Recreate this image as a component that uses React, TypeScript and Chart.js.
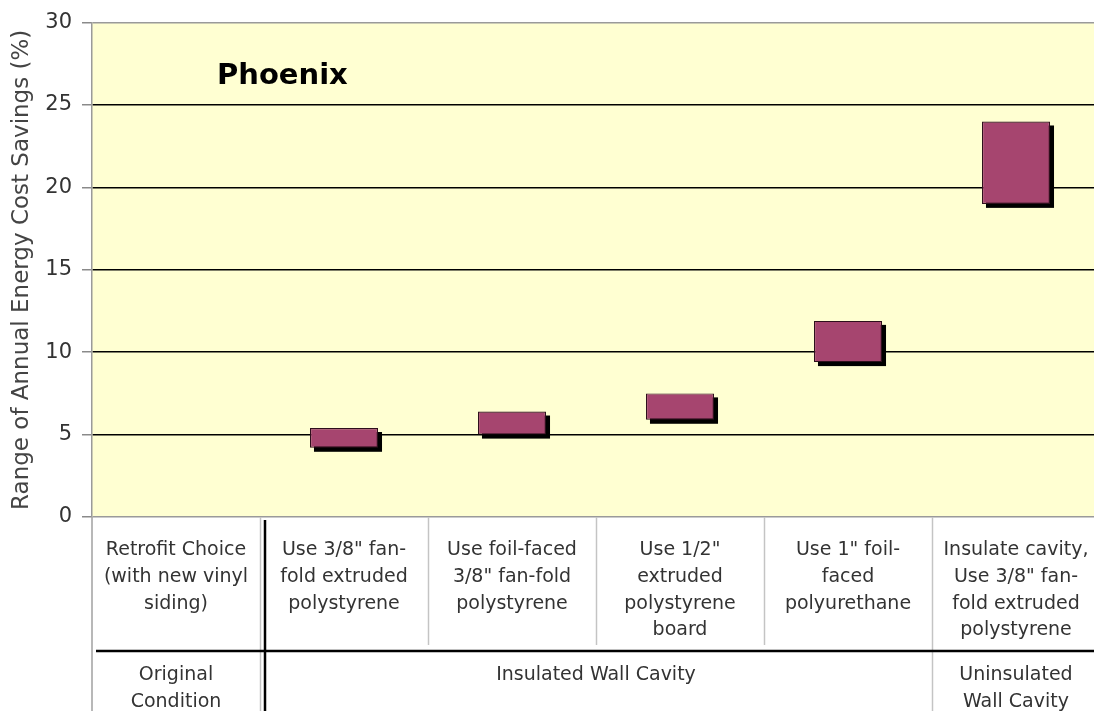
import React, { useEffect, useRef } from "react";
import { Chart, registerables } from "chart.js";

Chart.register(...registerables);

const categoryLines: string[][] = [
  ["Retrofit Choice", "(with new vinyl", "siding)"],
  ["Use 3/8\" fan-", "fold extruded", "polystyrene"],
  ["Use foil-faced", "3/8\" fan-fold", "polystyrene"],
  ["Use 1/2\"", "extruded", "polystyrene", "board"],
  ["Use 1\" foil-", "faced", "polyurethane"],
  ["Insulate cavity,", "Use 3/8\" fan-", "fold extruded", "polystyrene"],
];
const savingsLow: (number | null)[] = [null, 4.2, 5.0, 5.9, 9.4, 19.0];
const savingsHigh: (number | null)[] = [null, 5.4, 6.4, 7.5, 11.9, 24.0];

const groupLabels: string[][] = [["Original", "Condition"], ["Insulated Wall Cavity"], ["Uninsulated", "Wall Cavity"]];
const groupStart = [0, 1, 5];
const groupEnd = [0, 4, 5];

const cityTitle = "Phoenix";
const yTitle = "Range of Annual Energy Cost Savings (%)";
const yMin = 0;
const yMax = 30;
const yStep = 5;

const FONT = "'DejaVu Sans', Verdana, sans-serif";

export default function App() {
  const ref = useRef<HTMLCanvasElement>(null);
  useEffect(() => {
    const canvas = ref.current!;
    const bgPlugin = {
      id: "bg",
      beforeDraw(chart: any) {
        const { ctx, chartArea: a } = chart;
        ctx.save();
        ctx.fillStyle = "#FFFFD2";
        ctx.fillRect(a.left, a.top, a.right - a.left, a.bottom - a.top);
        ctx.restore();
      },
    };
    const shadowPlugin = {
      id: "shadow",
      beforeDatasetsDraw(chart: any) {
        const ctx = chart.ctx;
        const meta = chart.getDatasetMeta(0);
        ctx.save();
        ctx.fillStyle = "#000";
        meta.data.forEach((el: any) => {
          const p = el.getProps(["x", "y", "base", "width"], true);
          if (p.y == null || isNaN(p.y) || p.base == null || isNaN(p.base)) return;
          const top = Math.min(p.y, p.base);
          const h = Math.abs(p.base - p.y);
          if (h <= 0) return;
          ctx.fillRect(p.x - p.width / 2 + 4, top + 4, p.width, h);
        });
        ctx.restore();
      },
    };
    const tablePlugin = {
      id: "table",
      afterDraw(chart: any) {
        const { ctx, chartArea: a } = chart;
        const xs = chart.scales.x;
        const H = chart.height;
        const W = chart.width;
        const step = xs.getPixelForValue(1) - xs.getPixelForValue(0);
        const bound = (i: number) => xs.getPixelForValue(i) - step / 2;
        ctx.save();
        // title inside plot
        ctx.fillStyle = "#000";
        ctx.font = `bold 29px ${FONT}`;
        ctx.textAlign = "left";
        ctx.textBaseline = "middle";
        ctx.fillText(cityTitle, a.left + 125, a.top + 54);

        // light grid lines of table
        ctx.strokeStyle = "#c4c4c4";
        ctx.lineWidth = 1.5;
        for (let i = 1; i < categoryLines.length; i++) {
          const bx = Math.round(bound(i)) + 0.5;
          const full = i === 1 || i === 5;
          ctx.beginPath();
          ctx.moveTo(bx, a.bottom);
          ctx.lineTo(bx, full ? H : a.bottom + 128);
          ctx.stroke();
        }
        ctx.strokeStyle = "#a0a0a0";
        ctx.lineWidth = 1.5;
        ctx.beginPath();
        ctx.moveTo(a.left, a.bottom);
        ctx.lineTo(a.left, H);
        ctx.stroke();

        // heavy lines
        ctx.strokeStyle = "#000";
        ctx.lineWidth = 2.5;
        ctx.beginPath();
        ctx.moveTo(bound(1) + 5, a.bottom + 3);
        ctx.lineTo(bound(1) + 5, H);
        ctx.stroke();
        ctx.beginPath();
        ctx.moveTo(a.left + 4, a.bottom + 134);
        ctx.lineTo(W, a.bottom + 134);
        ctx.stroke();

        // row 1 text
        ctx.fillStyle = "#333";
        ctx.font = `19px ${FONT}`;
        ctx.textAlign = "center";
        ctx.textBaseline = "middle";
        categoryLines.forEach((lines, i) => {
          const cx = xs.getPixelForValue(i);
          lines.forEach((t, j) => ctx.fillText(t, cx, a.bottom + 33 + j * 26.8));
        });
        // row 2 text
        groupLabels.forEach((lines, g) => {
          const cx = (bound(groupStart[g]) + bound(groupEnd[g] + 1)) / 2;
          lines.forEach((t, j) => ctx.fillText(t, cx, a.bottom + 158 + j * 27));
        });
        ctx.restore();
      },
    };

    const chart = new Chart(canvas, {
      type: "bar",
      data: {
        labels: categoryLines.map((l) => l.join(" ")),
        datasets: [
          {
            label: "Savings range",
            data: savingsLow.map((lo, i) => (lo === null ? null : [lo, savingsHigh[i] as number])) as any,
            backgroundColor: "#A6456F",
            borderColor: "#2e0f1c",
            borderWidth: 1.2,
            borderSkipped: false,
            barPercentage: 1,
            categoryPercentage: 0.405,
          },
        ],
      },
      options: {
        responsive: false,
        animation: false,
        devicePixelRatio: 1,
        layout: { padding: { top: 21, bottom: 194, left: 0, right: 0 } },
        plugins: { legend: { display: false }, tooltip: { enabled: false } },
        scales: {
          x: { display: false },
          y: {
            min: yMin,
            max: yMax,
            afterFit(s: any) {
              s.width = 92;
            },
            ticks: {
              stepSize: yStep,
              color: "#333",
              font: { family: FONT, size: 21 },
              padding: 10,
            },
            grid: {
              color: (c: any) => (c.tick && (c.tick.value === yMin || c.tick.value === yMax) ? "#9a9a9a" : "#000"),
              lineWidth: 1.5,
              tickColor: "#8a8a8a",
              tickLength: 10,
            },
            border: { display: true, color: "#9a9a9a", width: 1.5 },
            title: {
              display: true,
              text: yTitle,
              color: "#444",
              font: { family: FONT, size: 23 },
              padding: { top: 8, bottom: 0 },
            },
          },
        },
      },
      plugins: [bgPlugin, shadowPlugin, tablePlugin],
    });
    return () => chart.destroy();
  }, []);
  return (
    <div style={{ position: "absolute", left: 0, top: 0, width: 1094, height: 711, overflow: "hidden", background: "#fff" }}>
      <canvas ref={ref} width={1100} height={711} style={{ width: 1100, height: 711, display: "block" }} />
    </div>
  );
}
